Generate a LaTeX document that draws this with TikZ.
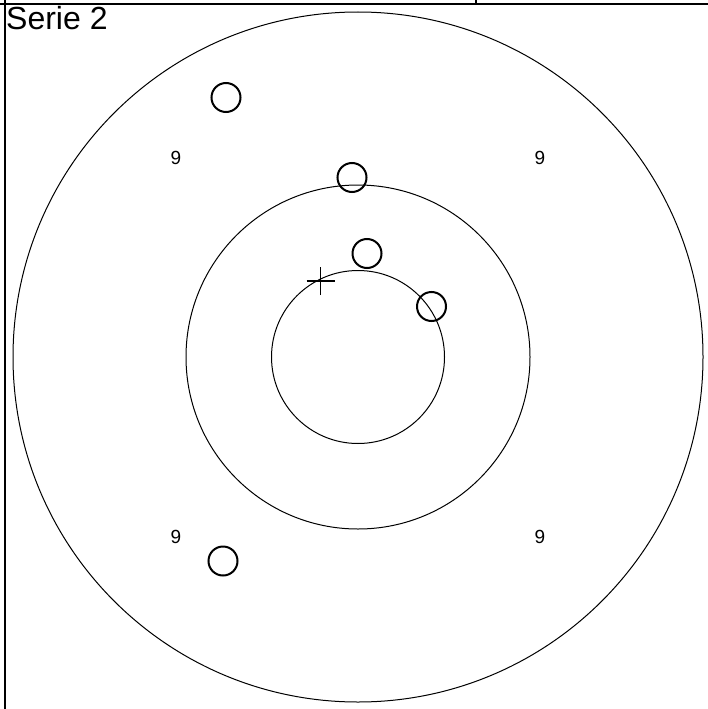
\documentclass[tikz,border=0pt]{standalone}
\usepackage{fontspec}
\setmainfont{Liberation Sans}
\begin{document}
\begin{tikzpicture}[x=1pt,y=-1pt,
  ring/.style={draw=black,line width=1pt},
  shot/.style={draw=black,line width=2pt,circle,minimum size=29pt,inner sep=0pt},
  frameline/.style={draw=black,line width=2pt},
  ringlabel/.style={font=\fontsize{19}{19}\selectfont,inner sep=0pt},
  title/.style={font=\fontsize{32}{32}\selectfont,inner sep=0pt,anchor=base west}]
\useasboundingbox (0,0) rectangle (708,709);
\coordinate (c) at (358,357);
% frame
\coordinate (tl) at (0,4);
\coordinate (tr) at (708,4);
\coordinate (lt) at (5,0);
\coordinate (lb) at (5,709);
\coordinate (tk1) at (476,0);
\coordinate (tk2) at (476,4);
\draw[frameline] (tl) -- (tr);
\draw[frameline] (lt) -- (lb);
\draw[frameline,line width=1.5pt] (tk1) -- (tk2);
% rings
\draw[ring] (c) circle[radius=345];
\draw[ring] (c) circle[radius=172];
\draw[ring] (c) circle[radius=86.5];
% labels
\node[title] (t) at (6,30) {Serie 2};
\node[ringlabel] (l1) at (176,158) {9};
\node[ringlabel] (l2) at (540,158) {9};
\node[ringlabel] (l3) at (176,537) {9};
\node[ringlabel] (l4) at (540,537) {9};
% shots
\node[shot] (s1) at (226,97.5) {};
\node[shot] (s2) at (352,177.5) {};
\node[shot] (s3) at (367,253.5) {};
\node[shot] (s4) at (431.5,306.5) {};
\node[shot] (s5) at (223,561) {};
% centre cross
\coordinate (x) at (320.5,281);
\draw[line width=1.2pt] ([xshift=-14pt]x) -- ([xshift=14pt]x);
\draw[line width=1.2pt] ([yshift=-14pt]x) -- ([yshift=14pt]x);
\end{tikzpicture}
\end{document}
